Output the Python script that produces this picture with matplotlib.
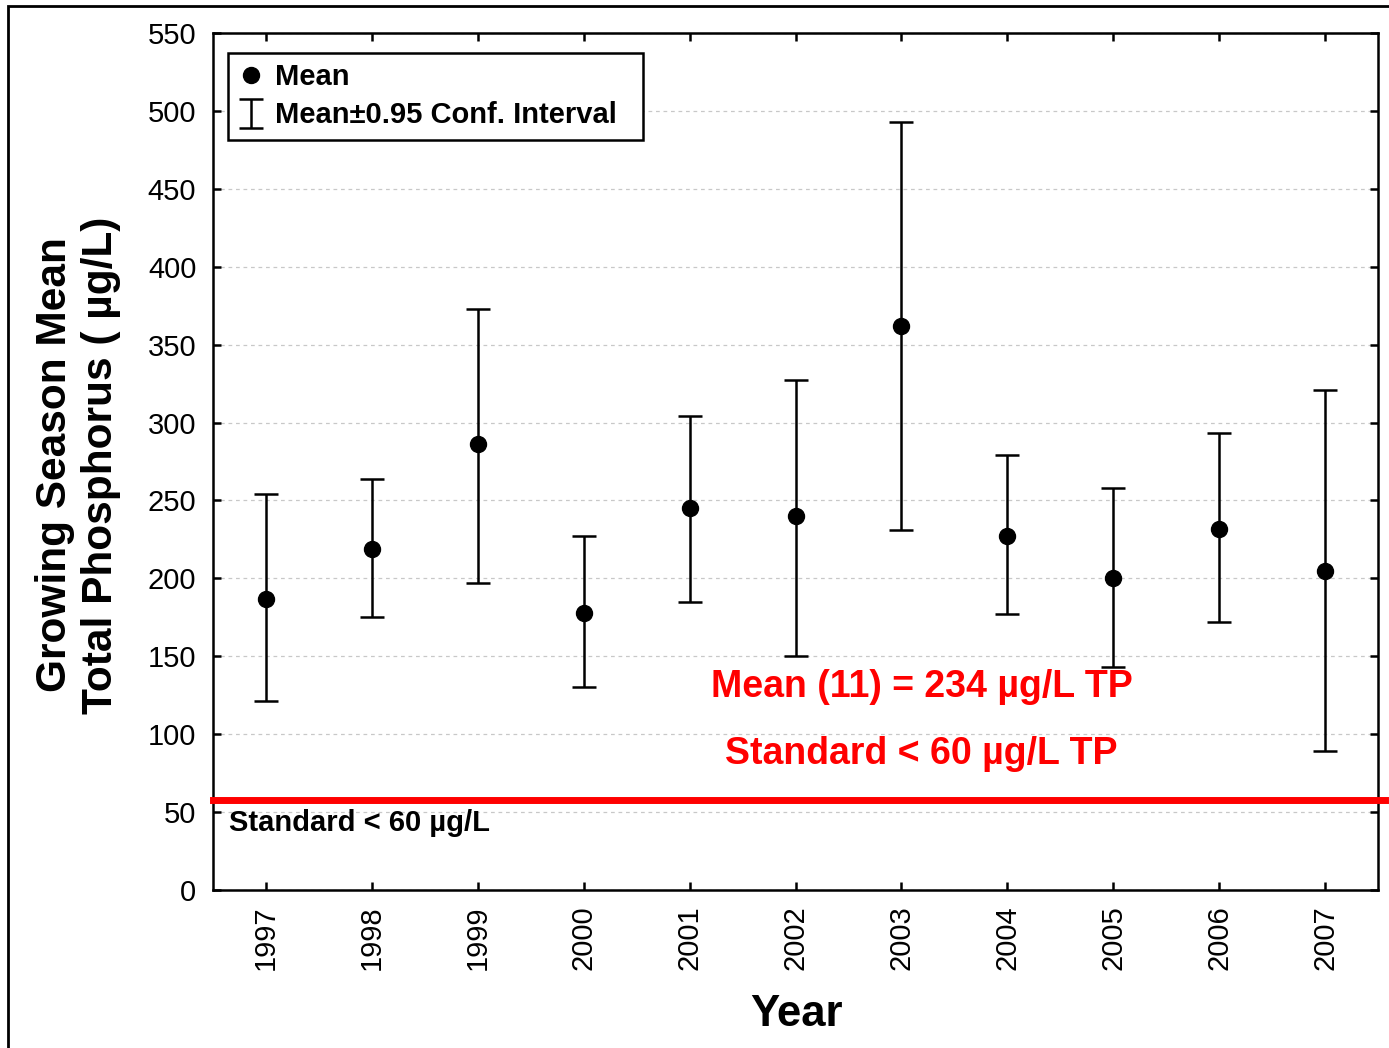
import matplotlib
matplotlib.use("Agg")
import matplotlib.pyplot as plt
from matplotlib.patches import Rectangle
import numpy as np

plt.rcParams['font.family'] = ['Liberation Sans', 'DejaVu Sans']

years = [1997, 1998, 1999, 2000, 2001, 2002, 2003, 2004, 2005, 2006, 2007]
means = [187, 219, 286, 178, 245, 240, 362, 227, 200, 232, 205]
ci_upper = [254, 264, 373, 227, 304, 327, 493, 279, 258, 293, 321]
ci_lower = [121, 175, 197, 130, 185, 150, 231, 177, 143, 172, 89]
y_ticks = [0, 50, 100, 150, 200, 250, 300, 350, 400, 450, 500, 550]
standard_line = 58

W, H = 1389, 1048
fig = plt.figure(figsize=(W / 100, H / 100), dpi=100)
ax = fig.add_axes([213 / W, 1 - 890 / H, (1378 - 213) / W, (890 - 33) / H])

x = np.array(years)
m = np.array(means)
yerr = np.vstack([m - np.array(ci_lower), np.array(ci_upper) - m])

eb = ax.errorbar(x, m, yerr=yerr, fmt='none', ecolor='black', elinewidth=1.8,
                 capsize=8.3, capthick=1.8, zorder=3)
mean_line, = ax.plot(x, m, 'o', color='black', markersize=11.5, zorder=4)

ax.set_xlim(1996.5, 2007.5)
ax.set_ylim(0, 550)
ax.set_yticks(y_ticks)
ax.set_xticks(years)
ax.set_xticklabels([str(y) for y in years], rotation=90)
ax.tick_params(axis='both', direction='in', length=6, width=1.8, labelsize=21,
               top=True, right=True, pad=11)
ax.tick_params(axis='y', pad=12)
for s in ax.spines.values():
    s.set_linewidth(1.8)
ax.yaxis.grid(True, linestyle=(0, (3, 3)), color='#c8c8c8', linewidth=0.9)
ax.set_axisbelow(True)

ax.axhline(standard_line, xmin=0, xmax=(1385 - 213) / (1378 - 213), color='#ff0000',
           linewidth=5, clip_on=False, zorder=5)

ax.text(16 / 1165, 43, 'Standard < 60 µg/L', transform=ax.get_yaxis_transform(),
        fontsize=21, fontweight='bold', va='center', ha='left')

ax.text(2003.19, 130, 'Mean (11) = 234 µg/L TP', color='#ff0000', fontsize=27,
        fontweight='bold', ha='center', va='center')
ax.text(2003.19, 87, 'Standard < 60 µg/L TP', color='#ff0000', fontsize=27,
        fontweight='bold', ha='center', va='center')

leg = ax.legend([mean_line, eb], ['Mean', 'Mean±0.95 Conf. Interval  '],
                loc='upper left', bbox_to_anchor=(15 / 1165, 1 - 20 / 857),
                borderaxespad=0, fancybox=False, framealpha=1, edgecolor='black',
                prop={'weight': 'bold', 'size': 21}, handlelength=0.9,
                handletextpad=0.35, labelspacing=0.35, borderpad=0.35)
leg.get_frame().set_linewidth(1.8)

fig.text(78 / W, 1 - 465 / H, 'Growing Season Mean\nTotal Phosphorus ( µg/L)',
         rotation=90, fontsize=30.5, fontweight='bold', ha='center', va='center',
         linespacing=1.2)
fig.text(796 / W, 1 - 1014 / H, 'Year', fontsize=31.5, fontweight='bold',
         ha='center', va='center')

fig.patches.append(Rectangle((8 / W, -0.1), 1.2, 1 - 6 / H + 0.1, transform=fig.transFigure,
                             fill=False, edgecolor='black', linewidth=2))

fig.savefig('out.png', dpi=100)
